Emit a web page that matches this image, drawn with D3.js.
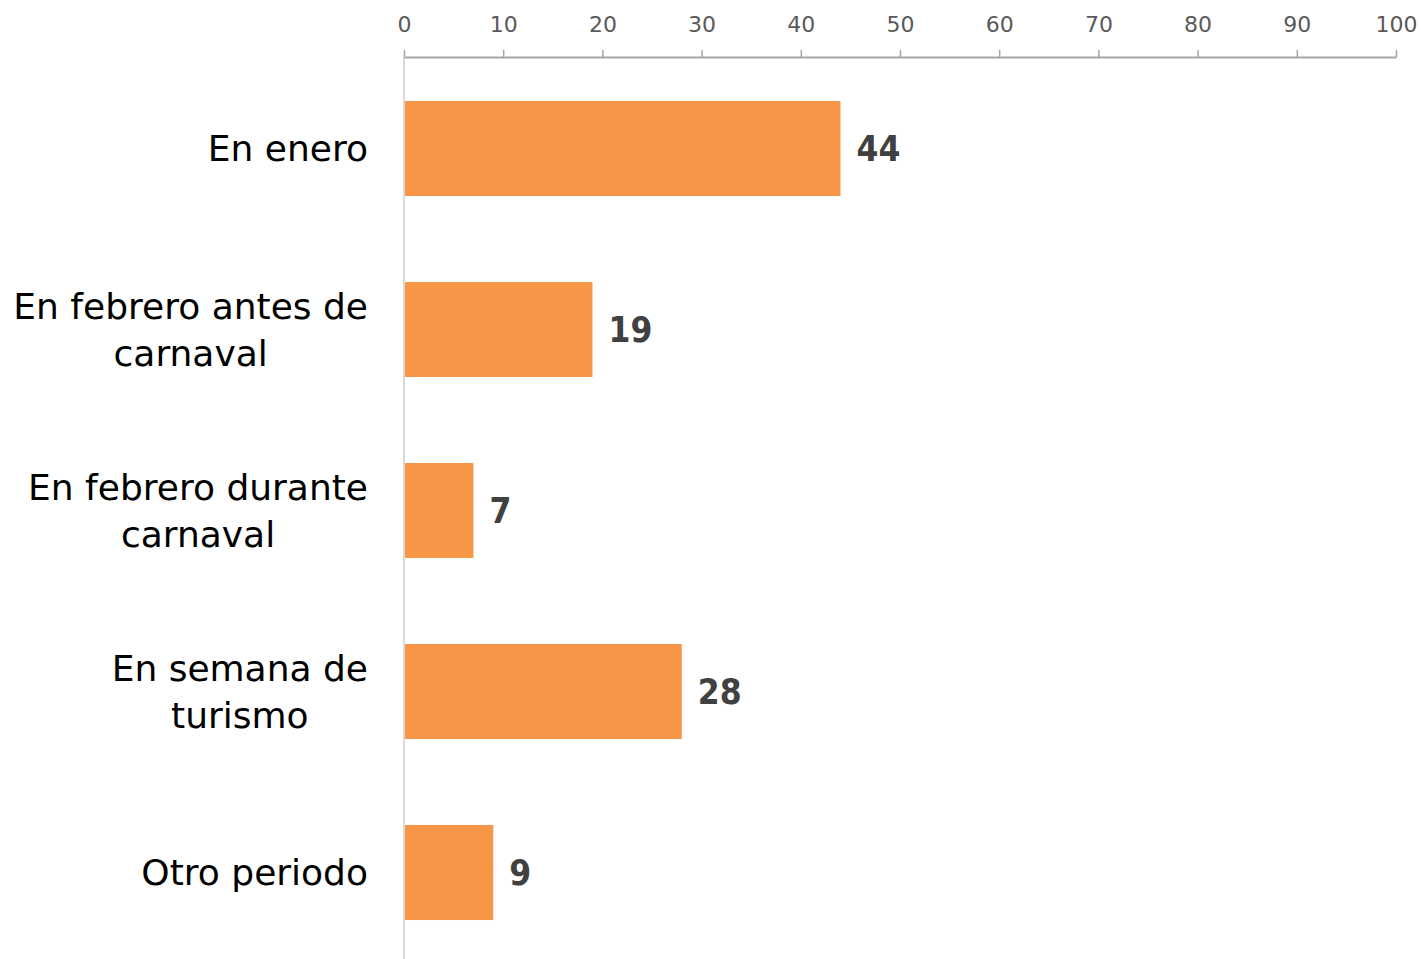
<!DOCTYPE html>
<html><head><meta charset="utf-8">
<script src="https://cdn.jsdelivr.net/npm/d3@7"></script>
<style>
body{margin:0;background:#fff;}
svg{display:block;font-family:"DejaVu Sans",sans-serif;}
</style></head><body>
<svg id="chart" width="1421" height="959"></svg>
<script>
const categories = [["En enero"],["En febrero antes de","carnaval"],["En febrero durante","carnaval"],["En semana de","turismo"],["Otro periodo"]];
const values = [44, 19, 7, 28, 9];
const tickValues = [0,10,20,30,40,50,60,70,80,90,100];

const svg = d3.select("#chart");
const x = d3.scaleLinear().domain([0,100]).range([404,1396]);
const y = d3.scaleBand().domain(d3.range(categories.length)).range([58,963]).paddingInner(0.475).paddingOuter(0.2375);

// vertical axis line
svg.append("line").attr("x1",x(0)).attr("x2",x(0)).attr("y1",57).attr("y2",959)
  .attr("stroke","#d9d9d9").attr("stroke-width",2);

// top axis
const ax = svg.append("g").attr("transform","translate(0,57)")
  .call(d3.axisTop(x).tickValues(tickValues).tickSize(7).tickSizeOuter(0).tickPadding(18));
ax.select(".domain").attr("stroke","#a6a6a6").attr("stroke-width",2);
ax.selectAll(".tick line").attr("stroke","#a6a6a6").attr("stroke-width",1.5);
ax.selectAll(".tick text").attr("fill","#595959").style("font-size","22px")
  .style("font-family","'DejaVu Sans',sans-serif");

// bars
svg.selectAll("rect.bar").data(values).join("rect").attr("class","bar")
  .attr("x",x(0)+1).attr("y",(d,i)=>y(i)).attr("width",d=>x(d)-x(0)-1).attr("height",y.bandwidth())
  .attr("fill","#f79646");

// value labels
svg.selectAll("text.val").data(values).join("text").attr("class","val")
  .attr("x",d=>x(d)+16).attr("y",(d,i)=>y(i)+y.bandwidth()/2).attr("dy","0.36em")
  .attr("fill","#404040").style("font-size","35px").style("font-weight","bold")
  .style("font-family","'DejaVu Sans Condensed','DejaVu Sans',sans-serif").text(d=>d);

// category labels
const lineH = 47;
categories.forEach((lines,i)=>{
  const cy = y(i)+y.bandwidth()/2;
  const g = svg.append("g");
  const ts = lines.map((t,k)=>g.append("text")
    .attr("y", cy + (k-(lines.length-1)/2)*lineH).attr("dy","0.36em")
    .attr("text-anchor","middle").attr("fill","#000").style("font-size","36px").text(t));
  const maxW = d3.max(ts, t=>t.node().getComputedTextLength());
  ts.forEach(t=>t.attr("x", 368 - maxW/2));
});
</script></body></html>
